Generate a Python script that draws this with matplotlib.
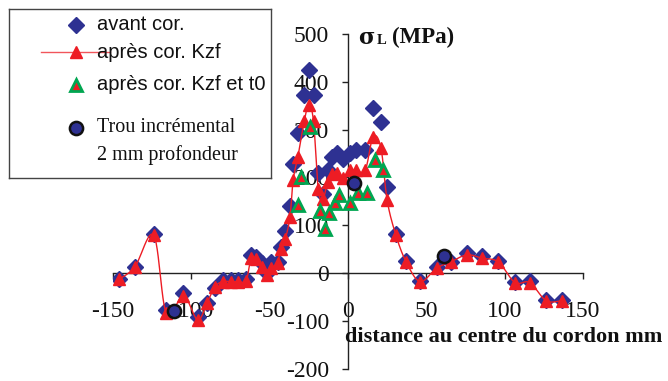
import numpy as np
import matplotlib
matplotlib.use("Agg")
import matplotlib.pyplot as plt

# ---- data ----
x_pos = [-146, -136, -124, -116, -105, -96, -90, -85, -80, -75,
         -70, -65, -62, -59, -55, -52, -49, -45, -43, -40,
         -37, -35, -32, -28, -25, -22, -19, -16, -13, -10,
         -7, -3, 1, 5, 11, 16, 21, 25, 30.5, 37,
         46, 56.5, 66, 76, 85.5, 96, 106.5, 116, 126.5, 136.5]
avant_cor = [-12, 12, 82, -78, -42, -92, -62, -31, -15, -15,
             -15, -12, 38, 34, 20, 0, 22, 22, 55, 88,
             140, 228, 292, 372, 425, 372, 210, 165, 215, 243,
             251, 238, 252, 257, 257, 345, 316, 180, 82, 25,
             -17, 13, 24, 41, 36, 25, -18, -17, -56, -56]
apres_kzf = [-13, 13, 79, -84, -48, -98, -63, -29, -18, -18,
             -18, -16, 31, 30, 13, -4, 10, 21, 50, 72,
             118, 195, 243, 317, 351, 317, 175, 155, 190, 208,
             210, 198, 215, 215, 215, 285, 262, 152, 80, 24,
             -18, 10, 24, 38, 31, 23, -20, -20, -58, -58]
x_t0 = [-32, -30, -24, -18, -15, -12, -8, -6, 1, 6.5, 12, 17, 22.5]
apres_kzf_t0 = [142, 200, 306, 130, 93, 126, 146, 164, 147, 167, 167, 236, 215]
x_trou = [-111, 4, 61.5]
trou = [-79, 188, 36]

x_ticks = [-150, -100, -50, 0, 50, 100, 150]
y_ticks = [-200, -100, 0, 100, 200, 300, 400, 500]

NAVY = "#2E3192"
RED = "#ED1C24"
GREEN = "#00A651"
SERIF = "Liberation Serif"
SANS = "Liberation Sans"

def smooth(xs, ys, n=12):
    """Catmull-Rom style smoothing of the connecting line (Excel 'smoothed line')."""
    P = np.column_stack([xs, ys]).astype(float)
    P = np.vstack([P[0], P, P[-1]])
    out = []
    for i in range(1, len(P) - 2):
        p0, p1, p2, p3 = P[i - 1], P[i], P[i + 1], P[i + 2]
        t = np.linspace(0, 1, n, endpoint=False)[:, None]
        c = 0.5 * ((2 * p1) + (-p0 + p2) * t + (2 * p0 - 5 * p1 + 4 * p2 - p3) * t ** 2
                   + (-p0 + 3 * p1 - 3 * p2 + p3) * t ** 3)
        out.append(c)
    out.append(P[-2][None, :])
    out = np.vstack(out)
    return out[:, 0], out[:, 1]

W, H = 668, 381
fig = plt.figure(figsize=(W / 100, H / 100), dpi=100)
ax = fig.add_axes([113 / W, (H - 368.6) / H, 470 / W, (368.6 - 34) / H])
ax.set_xlim(-150, 150)
ax.set_ylim(-200, 500)

for s in ["top", "right"]:
    ax.spines[s].set_visible(False)
ax.spines["left"].set_position(("data", 0))
ax.spines["bottom"].set_position(("data", 0))
for s in ["left", "bottom"]:
    ax.spines[s].set_color("#222222")
    ax.spines[s].set_linewidth(1.0)

ax.set_xticks(x_ticks)
ax.set_yticks(y_ticks)
ax.set_xticklabels([str(v) for v in x_ticks], fontfamily=SERIF, fontsize=17)
ax.set_yticklabels([str(v) for v in y_ticks], fontfamily=SERIF, fontsize=17)
ax.tick_params(axis="x", direction="out", length=4.5, width=1, pad=16, colors="#222222")
ax.tick_params(axis="y", direction="out", length=4.5, width=1, pad=9, colors="#222222")
for lab in ax.get_xticklabels() + ax.get_yticklabels():
    lab.set_color("#111111")

# series
ax.plot(x_pos, avant_cor, linestyle="none", marker="D", markersize=8.5,
        color=NAVY, markeredgecolor=NAVY, zorder=3)
sx, sy = smooth(x_pos, apres_kzf)
ax.plot(sx, sy, color=RED, linewidth=1.0, zorder=4)
ax.plot(x_pos, apres_kzf, linestyle="none", marker="^", markersize=8.5,
        color=RED, markeredgecolor=RED, zorder=5)
ax.plot(x_t0, apres_kzf_t0, linestyle="none", marker="^", markersize=8.5,
        color=RED, markeredgecolor=GREEN, markeredgewidth=2.0, zorder=6)
ax.plot(x_trou, trou, linestyle="none", marker="o", markersize=9.5,
        color=NAVY, markeredgecolor="#111111", markeredgewidth=1.8, zorder=7)

# axis titles
fig.text(345 / W, 1 - 337 / H, "distance au centre du cordon mm", fontfamily=SERIF,
         fontweight="bold", fontsize=16, ha="left", va="center", color="#111111")
fig.text(358 / W, 1 - 38 / H, "σ", fontfamily="DejaVu Serif", fontweight="bold",
         fontsize=16, ha="left", va="center", color="#111111")
fig.text(377 / W, 1 - 40 / H, "L", fontfamily=SERIF, fontweight="bold",
         fontsize=10.5, ha="left", va="center", color="#111111")
fig.text(392 / W, 1 - 37 / H, "(MPa)", fontfamily=SERIF, fontweight="bold",
         fontsize=16.5, ha="left", va="center", color="#111111")

# legend box (manual, in pixel space)
lx0, ly0, lx1, ly1 = 9, 9, 271, 178
lax = fig.add_axes([lx0 / W, 1 - ly1 / H, (lx1 - lx0) / W, (ly1 - ly0) / H])
lax.set_xlim(lx0, lx1)
lax.set_ylim(ly1, ly0)
lax.set_xticks([])
lax.set_yticks([])
for s in lax.spines.values():
    s.set_color("#444444")
    s.set_linewidth(1.0)
mx, tx = 76, 97
lax.plot([mx], [25], marker="D", markersize=8.5, color=NAVY, linestyle="none")
lax.text(tx, 25, "avant cor.", fontfamily=SANS, fontsize=14.5, va="center", color="#111111")
lax.plot([41, 110], [52, 52], color=RED, linewidth=1.0, alpha=0.75)
lax.plot([mx], [52], marker="^", markersize=8.5, color=RED, linestyle="none")
lax.text(tx, 52, "après cor. Kzf", fontfamily=SANS, fontsize=14.5, va="center", color="#111111")
lax.plot([mx], [85], marker="^", markersize=8.5, color=RED, markeredgecolor=GREEN,
         markeredgewidth=2.0, linestyle="none")
lax.text(tx, 85, "après cor. Kzf et t0", fontfamily=SANS, fontsize=14.5, va="center", color="#111111")
lax.plot([mx], [128], marker="o", markersize=9.5, color=NAVY, markeredgecolor="#111111",
         markeredgewidth=1.8, linestyle="none")
lax.text(tx, 128, "Trou incrémental", fontfamily=SERIF, fontsize=14.5, va="center", color="#111111")
lax.text(tx, 155, "2 mm profondeur", fontfamily=SERIF, fontsize=14.5, va="center", color="#111111")

fig.savefig("out.png", dpi=100)
